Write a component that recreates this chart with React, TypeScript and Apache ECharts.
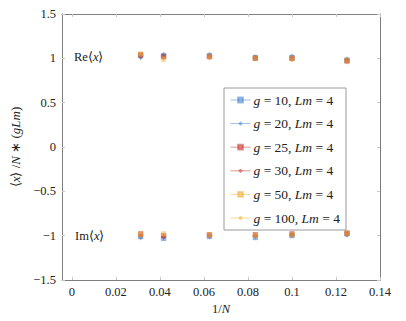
import React, { useEffect, useRef } from "react";
import * as echarts from "echarts";

const invN = [1 / 32, 1 / 24, 1 / 16, 1 / 12, 1 / 10, 1 / 8];
const seriesNames = ["g = 10, Lm = 4", "g = 20, Lm = 4", "g = 25, Lm = 4", "g = 30, Lm = 4", "g = 50, Lm = 4", "g = 100, Lm = 4"];
const reValues = [
  [1.03, 1.03, 1.03, 1.01, 1.01, 0.98],
  [1.01, 1.04, 1.04, 1.0, 1.02, 0.99],
  [1.04, 1.02, 1.02, 1.0, 1.0, 0.97],
  [1.02, 1.01, 1.01, 1.01, 0.99, 0.97],
  [1.05, 0.99, 1.02, 1.0, 1.0, 0.98],
  [1.04, 1.0, 1.01, 1.0, 0.99, 0.96],
];
const imValues = [
  [-1.01, -1.03, -1.01, -1.02, -1.0, -0.98],
  [-1.02, -1.02, -1.0, -1.01, -0.99, -0.99],
  [-0.98, -1.0, -0.99, -0.99, -0.98, -0.97],
  [-1.0, -1.01, -1.0, -1.0, -0.99, -0.98],
  [-0.98, -0.98, -0.99, -1.0, -0.99, -0.97],
  [-1.0, -0.99, -1.0, -1.0, -0.99, -0.98],
];
const xTicks = [0, 0.02, 0.04, 0.06, 0.08, 0.1, 0.12, 0.14];
const colors = ["#3f7fd0", "#3f7fd0", "#c8302a", "#c8302a", "#f0b030", "#f0b030"];
const symbols = ["rect", "diamond", "rect", "diamond", "rect", "diamond"];
const opacities = [0.5, 0.5, 0.5, 0.5, 0.35, 0.35];

const FONT = "Liberation Serif";
const minus = (v: number) => String(v).replace("-", "\u2212");

export default function App() {
  const ref = useRef<HTMLDivElement>(null);
  useEffect(() => {
    document.body.style.margin = "0";
    const chart = echarts.init(ref.current!, null, { renderer: "svg" });
    const series = seriesNames.map((name, s) => ({
      name,
      type: "line",
      symbol: symbols[s],
      symbolSize: symbols[s] === "rect" ? 4.5 : [4, 6],
      lineStyle: { width: 1, opacity: 0, color: colors[s] },
      itemStyle: { color: colors[s], opacity: opacities[s], borderColor: colors[s], borderWidth: symbols[s] === "rect" ? 0.8 : 0 },
      connectNulls: false,
      data: [
        ...invN.map((x, i) => [x, reValues[s][i]]),
        "-",
        ...invN.map((x, i) => [x, imValues[s][i]]),
      ],
    }));
    const axisLine = { show: true, onZero: false, lineStyle: { color: "#7f7f7f", width: 1 } };
    const tick = { show: true, inside: true, length: 3, lineStyle: { color: "#c8c8c8" } };
    const labelStyle = { color: "#222", fontFamily: FONT, fontSize: 12.5 };
    chart.setOption({
      animation: false,
      textStyle: { fontFamily: FONT },
      grid: { left: 62, top: 14, right: 26, bottom: 41 },
      xAxis: [
        {
          type: "value",
          min: -0.0045,
          max: 0.14,
          axisLine,
          splitLine: { show: false },
          axisTick: { ...tick, customValues: xTicks },
          axisLabel: { ...labelStyle, customValues: xTicks, margin: 5, formatter: (v: number) => minus(v) },
          name: "{n|1/}{i|N}",
          nameLocation: "middle",
          nameGap: 21,
          nameTextStyle: {
            rich: {
              n: { fontFamily: FONT, fontSize: 12.5, color: "#222" },
              i: { fontFamily: FONT, fontSize: 12.5, fontStyle: "italic", color: "#222" },
            },
          },
        },
        {
          type: "value",
          position: "top",
          min: -0.0045,
          max: 0.14,
          axisLine,
          splitLine: { show: false },
          axisTick: { ...tick, customValues: xTicks },
          axisLabel: { show: false },
        },
      ],
      yAxis: [
        {
          type: "value",
          min: -1.5,
          max: 1.5,
          interval: 0.5,
          axisLine,
          splitLine: { show: false },
          axisTick: tick,
          axisLabel: { ...labelStyle, margin: 6, formatter: (v: number) => minus(v) },
          name: "{n|\u27e8}{i|x}{n|\u27e9 /}{i|N}{n| \u2217 (}{i|gLm}{n|)}",
          nameLocation: "middle",
          nameGap: 38,
          nameRotate: 90,
          nameTextStyle: {
            rich: {
              n: { fontFamily: FONT, fontSize: 13, color: "#222" },
              i: { fontFamily: FONT, fontSize: 13, fontStyle: "italic", color: "#222" },
            },
          },
        },
        {
          type: "value",
          position: "right",
          min: -1.5,
          max: 1.5,
          interval: 0.5,
          axisLine,
          splitLine: { show: false },
          axisTick: tick,
          axisLabel: { show: false },
        },
      ],
      legend: {
        orient: "vertical",
        left: 224,
        top: 88,
        padding: [5, 6, 5, 6],
        itemWidth: 20,
        itemHeight: 6,
        itemGap: 9.6,
        backgroundColor: "#fff",
        borderColor: "#9a9a9a",
        borderWidth: 1,
        borderRadius: 0,
        lineStyle: { opacity: 0.5, width: 1 },
        itemStyle: { opacity: 0.5 },
        formatter: (name: string) => {
          const m = name.match(/g = (\d+), Lm = (\d+)/);
          if (!m) return name;
          return `{i|g}{n| = ${m[1]}, }{i|Lm}{n| = ${m[2]}}`;
        },
        textStyle: {
          padding: [0, 0, 0, -2],
          rich: {
            n: { fontFamily: FONT, fontSize: 13.5, color: "#222" },
            i: { fontFamily: FONT, fontSize: 13.5, fontStyle: "italic", color: "#222" },
          },
        },
        data: seriesNames,
      },
      graphic: [
        {
          type: "text",
          left: 74,
          top: 50,
          style: {
            text: "{n|Re\u27e8}{i|x}{n|\u27e9}",
            rich: {
              n: { fontFamily: FONT, fontSize: 12.5, fill: "#222" },
              i: { fontFamily: FONT, fontSize: 12.5, fontStyle: "italic", fill: "#222" },
            },
          },
        },
        {
          type: "text",
          left: 75,
          top: 229,
          style: {
            text: "{n|Im\u27e8}{i|x}{n|\u27e9}",
            rich: {
              n: { fontFamily: FONT, fontSize: 12.5, fill: "#222" },
              i: { fontFamily: FONT, fontSize: 12.5, fontStyle: "italic", fill: "#222" },
            },
          },
        },
      ],
      series,
    });
    return () => chart.dispose();
  }, []);
  return <div ref={ref} style={{ width: 406, height: 321 }} />;
}
